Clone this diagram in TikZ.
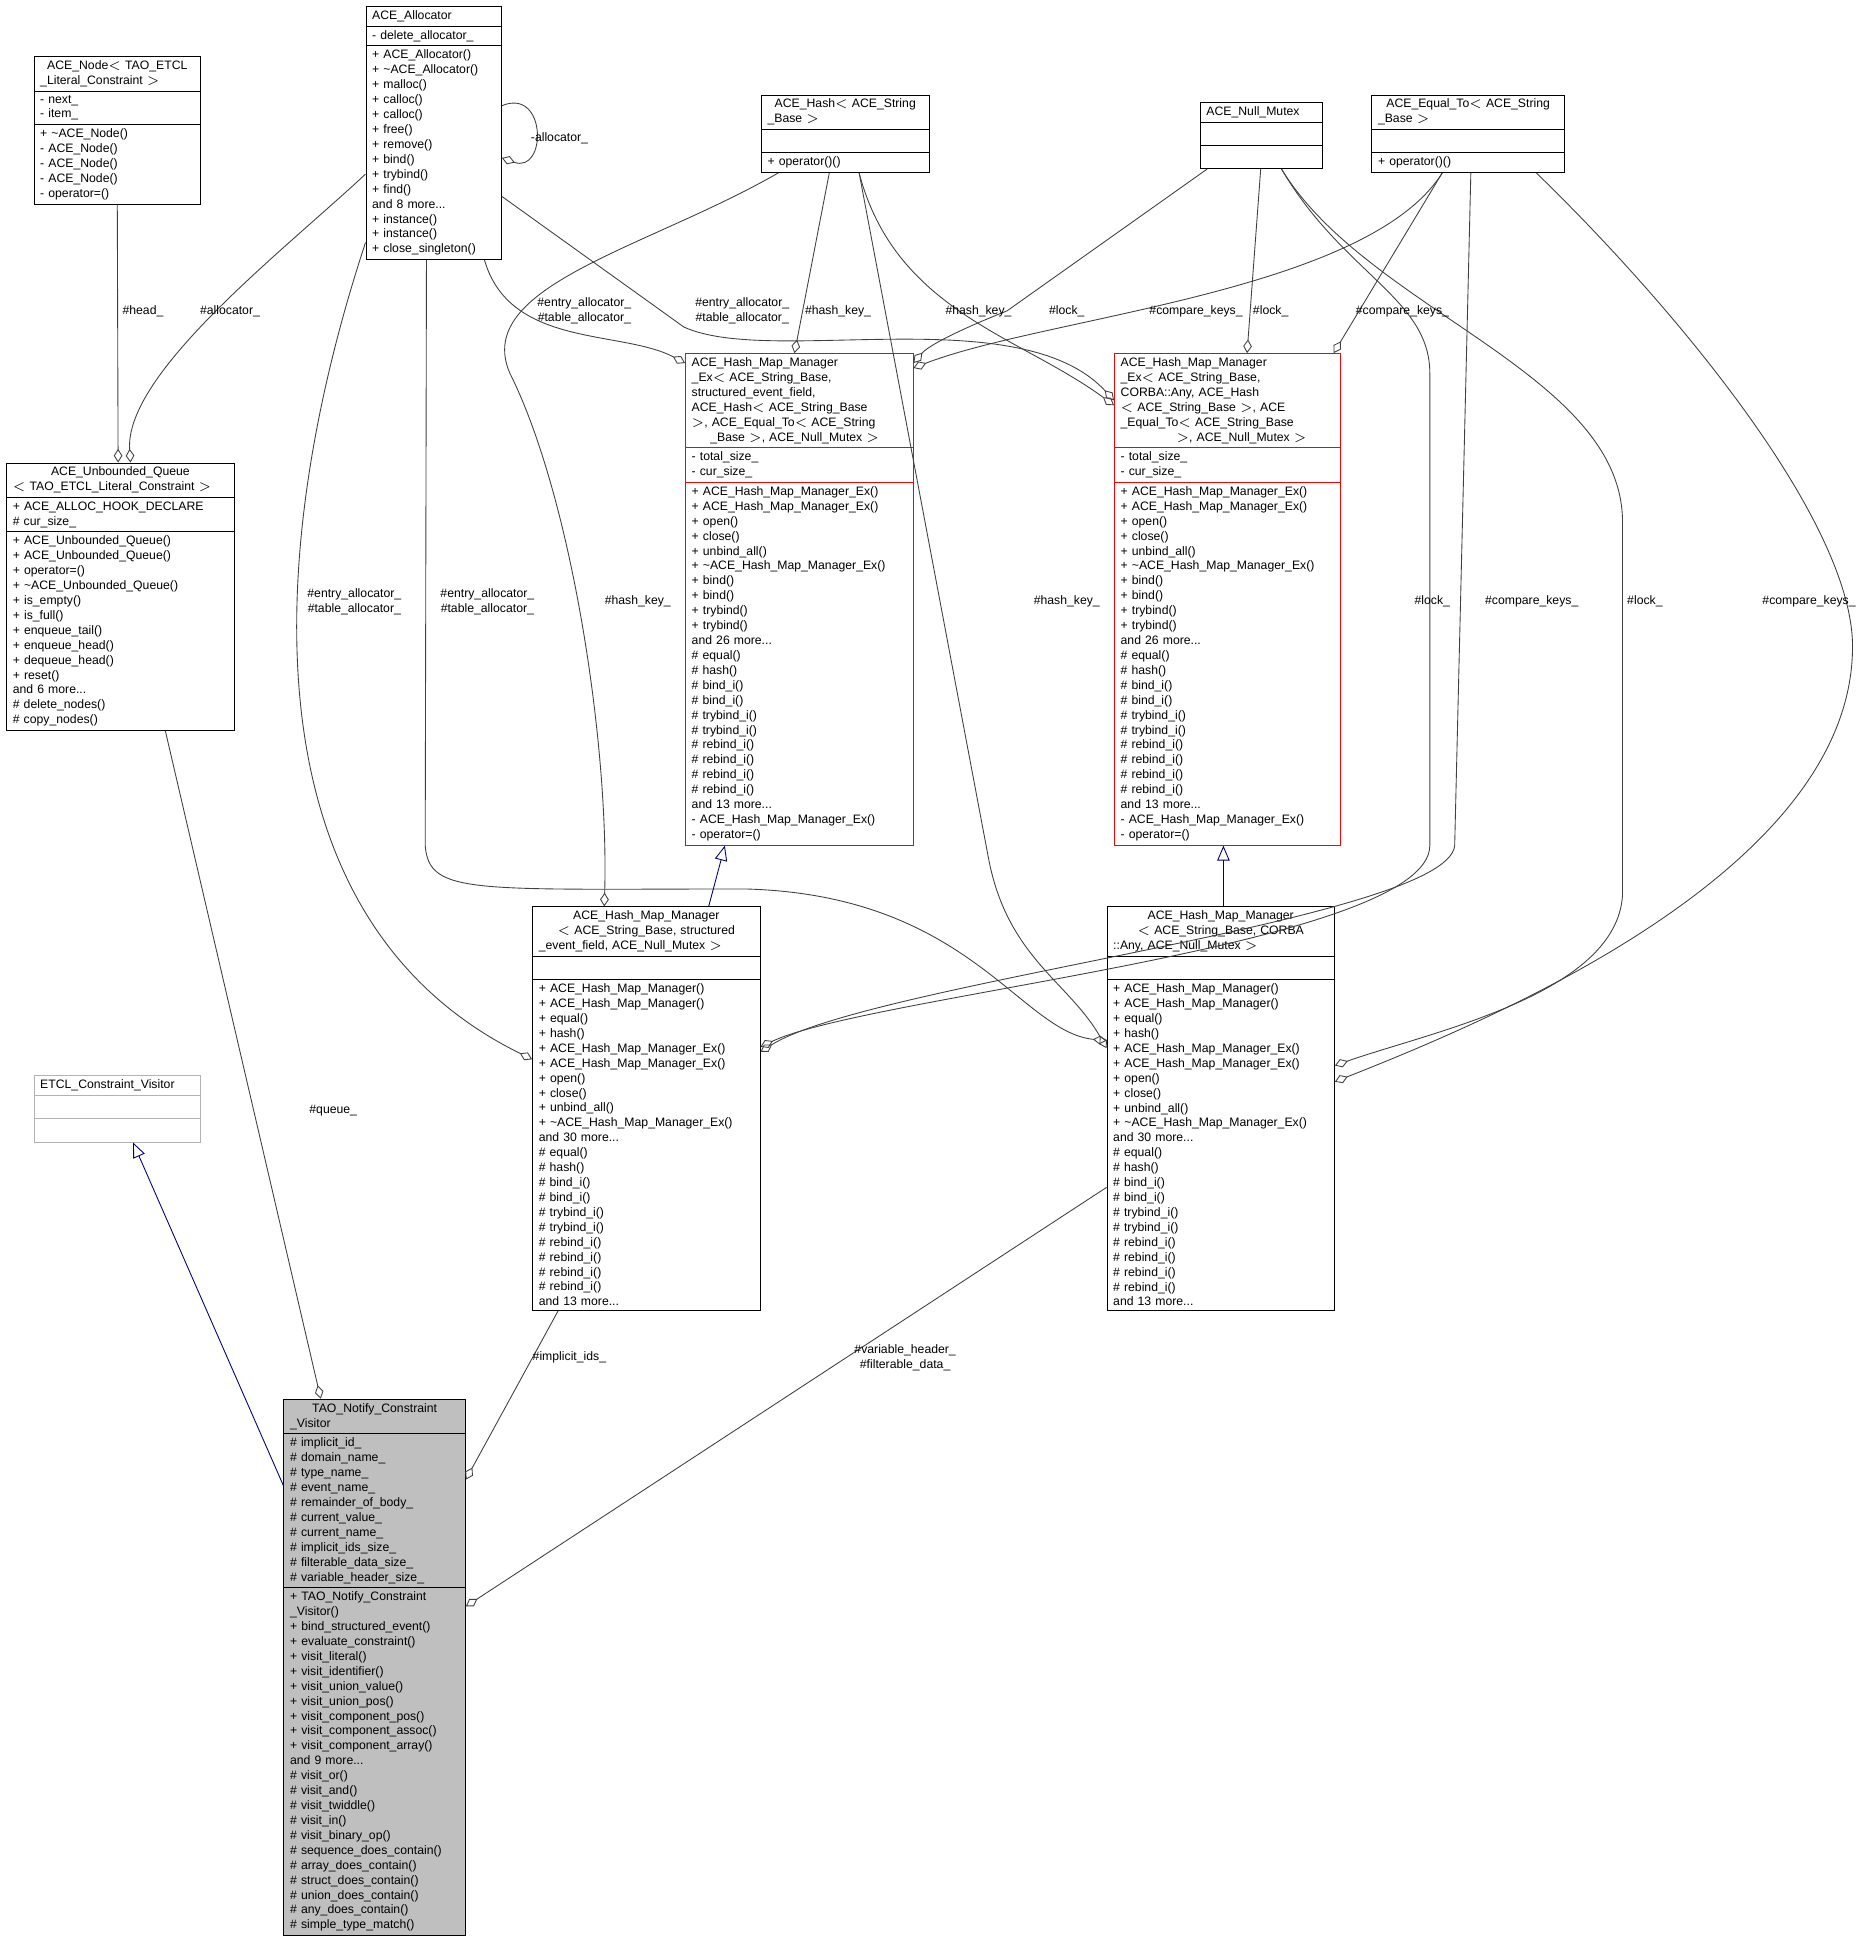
\documentclass[tikz,border=0pt]{standalone}
\usepackage{fontspec}
\setmainfont{Liberation Sans}
\usepackage{tikz}
\usetikzlibrary{calc, shapes.multipart, arrows.meta}

\begin{document}
\begin{tikzpicture}[
        x=0.02cm, y=-0.02cm,
        font=\fontsize{5.6}{6.83}\selectfont,
        cls/.style={rectangle split, rectangle split parts=3, draw=black, fill=white,
            anchor=north west, align=left, inner xsep=0.1cm, inner ysep=0.06cm},
        redcls/.style={cls, draw=red},
        agg/.style={draw=black!75, -{Diamond[open, length=0.22cm, width=0.14cm]}},
        inh/.style={draw=blue!45!black, -{Triangle[open, length=0.24cm, width=0.2cm]}},
        lbl/.style={align=center, inner sep=0pt}
    ]

        \useasboundingbox (0,0) rectangle (1500,1570);

        % Classes on top
        \node[cls, text width=2.48cm] (node) at (27,45) {\centering ACE\_Node$<$ TAO\_ETCL\\\_Literal\_Constraint $>$
            \nodepart{second}- next\_\\- item\_
            \nodepart{third}+ \textasciitilde ACE\_Node()\\- ACE\_Node()\\- ACE\_Node()\\- ACE\_Node()\\- operator=()};
        \node[cls, text width=1.98cm] (alloc) at (294,5) {\centering ACE\_Allocator
            \nodepart{second}- delete\_allocator\_
            \nodepart{third}+ ACE\_Allocator()\\+ \textasciitilde ACE\_Allocator()\\+ malloc()\\+ calloc()\\+ calloc()\\+ free()\\+ remove()\\+ bind()\\+ trybind()\\+ find()\\and 8 more...\\+ instance()\\+ instance()\\+ close\_singleton()};
        \node[cls, text width=2.5cm] (hash) at (612,76) {\centering ACE\_Hash$<$ ACE\_String\\\_Base $>$
            \nodepart{second}\strut
            \nodepart{third}+ operator()()};
        \node[cls, text width=1.76cm] (mutex) at (965,82) {\centering ACE\_Null\_Mutex
            \nodepart{second}\strut
            \nodepart{third}\strut};
        \node[cls, text width=2.9cm] (equal) at (1103,76) {\centering ACE\_Equal\_To$<$ ACE\_String\\\_Base $>$
            \nodepart{second}\strut
            \nodepart{third}+ operator()()};

        % Middle row
        \node[cls, text width=3.46cm] (queue) at (5,372) {\centering ACE\_Unbounded\_Queue\\$<$ TAO\_ETCL\_Literal\_Constraint $>$
            \nodepart{second}+ ACE\_ALLOC\_HOOK\_DECLARE\\\# cur\_size\_
            \nodepart{third}+ ACE\_Unbounded\_Queue()\\+ ACE\_Unbounded\_Queue()\\+ operator=()\\+ \textasciitilde ACE\_Unbounded\_Queue()\\+ is\_empty()\\+ is\_full()\\+ enqueue\_tail()\\+ enqueue\_head()\\+ dequeue\_head()\\+ reset()\\and 6 more...\\\# delete\_nodes()\\\# copy\_nodes()};
        \node[redcls, text width=3.46cm] (hmmexa) at (551,284) {ACE\_Hash\_Map\_Manager\\\_Ex$<$ ACE\_String\_Base,\\ structured\_event\_field,\\ ACE\_Hash$<$ ACE\_String\_Base\\ $>$, ACE\_Equal\_To$<$ ACE\_String\\\hspace*{0.3cm}\_Base $>$, ACE\_Null\_Mutex $>$
            \nodepart{second}- total\_size\_\\- cur\_size\_
            \nodepart{third}+ ACE\_Hash\_Map\_Manager\_Ex()\\+ ACE\_Hash\_Map\_Manager\_Ex()\\+ open()\\+ close()\\+ unbind\_all()\\+ \textasciitilde ACE\_Hash\_Map\_Manager\_Ex()\\+ bind()\\+ bind()\\+ trybind()\\+ trybind()\\and 26 more...\\\# equal()\\\# hash()\\\# bind\_i()\\\# bind\_i()\\\# trybind\_i()\\\# trybind\_i()\\\# rebind\_i()\\\# rebind\_i()\\\# rebind\_i()\\\# rebind\_i()\\and 13 more...\\- ACE\_Hash\_Map\_Manager\_Ex()\\- operator=()};
        \node[redcls, text width=3.44cm] (hmmexb) at (896,284) {ACE\_Hash\_Map\_Manager\\\_Ex$<$ ACE\_String\_Base,\\ CORBA::Any, ACE\_Hash\\$<$ ACE\_String\_Base $>$, ACE\\\_Equal\_To$<$ ACE\_String\_Base\\\hspace*{0.9cm}$>$, ACE\_Null\_Mutex $>$
            \nodepart{second}- total\_size\_\\- cur\_size\_
            \nodepart{third}+ ACE\_Hash\_Map\_Manager\_Ex()\\+ ACE\_Hash\_Map\_Manager\_Ex()\\+ open()\\+ close()\\+ unbind\_all()\\+ \textasciitilde ACE\_Hash\_Map\_Manager\_Ex()\\+ bind()\\+ bind()\\+ trybind()\\+ trybind()\\and 26 more...\\\# equal()\\\# hash()\\\# bind\_i()\\\# bind\_i()\\\# trybind\_i()\\\# trybind\_i()\\\# rebind\_i()\\\# rebind\_i()\\\# rebind\_i()\\\# rebind\_i()\\and 13 more...\\- ACE\_Hash\_Map\_Manager\_Ex()\\- operator=()};

        % Lower row
        \node[cls, draw=black!30, text width=2.48cm] (etcl) at (27,865) {\centering ETCL\_Constraint\_Visitor
            \nodepart{second}\strut
            \nodepart{third}\strut};
        \node[cls, text width=3.46cm] (hmma) at (428,729) {\centering ACE\_Hash\_Map\_Manager\\$<$ ACE\_String\_Base, structured\\\_event\_field, ACE\_Null\_Mutex $>$
            \nodepart{second}\strut
            \nodepart{third}+ ACE\_Hash\_Map\_Manager()\\+ ACE\_Hash\_Map\_Manager()\\+ equal()\\+ hash()\\+ ACE\_Hash\_Map\_Manager\_Ex()\\+ ACE\_Hash\_Map\_Manager\_Ex()\\+ open()\\+ close()\\+ unbind\_all()\\+ \textasciitilde ACE\_Hash\_Map\_Manager\_Ex()\\and 30 more...\\\# equal()\\\# hash()\\\# bind\_i()\\\# bind\_i()\\\# trybind\_i()\\\# trybind\_i()\\\# rebind\_i()\\\# rebind\_i()\\\# rebind\_i()\\\# rebind\_i()\\and 13 more...};
        \node[cls, text width=3.46cm] (hmmb) at (890,729) {\centering ACE\_Hash\_Map\_Manager\\$<$ ACE\_String\_Base, CORBA\\::Any, ACE\_Null\_Mutex $>$
            \nodepart{second}\strut
            \nodepart{third}+ ACE\_Hash\_Map\_Manager()\\+ ACE\_Hash\_Map\_Manager()\\+ equal()\\+ hash()\\+ ACE\_Hash\_Map\_Manager\_Ex()\\+ ACE\_Hash\_Map\_Manager\_Ex()\\+ open()\\+ close()\\+ unbind\_all()\\+ \textasciitilde ACE\_Hash\_Map\_Manager\_Ex()\\and 30 more...\\\# equal()\\\# hash()\\\# bind\_i()\\\# bind\_i()\\\# trybind\_i()\\\# trybind\_i()\\\# rebind\_i()\\\# rebind\_i()\\\# rebind\_i()\\\# rebind\_i()\\and 13 more...};
        \node[cls, fill=black!25, text width=2.72cm] (tao) at (228,1125) {\centering TAO\_Notify\_Constraint\\\_Visitor
            \nodepart{second}\# implicit\_id\_\\\# domain\_name\_\\\# type\_name\_\\\# event\_name\_\\\# remainder\_of\_body\_\\\# current\_value\_\\\# current\_name\_\\\# implicit\_ids\_size\_\\\# filterable\_data\_size\_\\\# variable\_header\_size\_
            \nodepart{third}+ TAO\_Notify\_Constraint\\\_Visitor()\\+ bind\_structured\_event()\\+ evaluate\_constraint()\\+ visit\_literal()\\+ visit\_identifier()\\+ visit\_union\_value()\\+ visit\_union\_pos()\\+ visit\_component\_pos()\\+ visit\_component\_assoc()\\+ visit\_component\_array()\\and 9 more...\\\# visit\_or()\\\# visit\_and()\\\# visit\_twiddle()\\\# visit\_in()\\\# visit\_binary\_op()\\\# sequence\_does\_contain()\\\# array\_does\_contain()\\\# struct\_does\_contain()\\\# union\_does\_contain()\\\# any\_does\_contain()\\\# simple\_type\_match()};

        % Aggregations into the top row
        \draw[agg] (node.south) -- ($(queue.north west)+(90,0)$);
        \draw[agg] ($(alloc.north west)+(0,135)$) .. controls (230,200) and (100,300) .. ($(queue.north west)+(100,0)$);
        \draw[agg] ($(alloc.north east)+(0,80)$) .. controls (440,70) and (440,140) .. ($(alloc.north east)+(0,122)$);
        \draw[agg] ($(alloc.south east)+(-14,0)$) .. controls (410,280) and (500,265) .. ($(hmmexa.north west)+(0,8)$);
        \draw[agg] ($(alloc.north east)+(0,153)$) -- (550,263) .. controls (620,295) and (820,240) .. ($(hmmexb.north west)+(0,38)$);
        \draw[agg] ($(hash.south west)+(55,0)$) -- ($(hmmexa.north west)+(88,0)$);
        \draw[agg] ($(hash.south west)+(79,0)$) .. controls (720,250) and (820,270) .. ($(hmmexb.north west)+(0,42)$);
        \draw[agg] ($(mutex.south west)+(6,0)$) -- (810,250) .. controls (760,270) and (745,280) .. ($(hmmexa.north east)+(0,8)$);
        \draw[agg] ($(mutex.south west)+(49,0)$) -- ($(hmmexb.north west)+(107,0)$);
        \draw[agg] ($(equal.south west)+(57,0)$) .. controls (1100,235) and (840,255) .. ($(hmmexa.north east)+(0,12)$);
        \draw[agg] ($(equal.south west)+(57,0)$) -- ($(hmmexb.north east)+(-6,0)$);

        % Aggregations into the lower row
        \draw[agg] ($(alloc.north west)+(0,190)$) .. controls (210,450) and (200,740) .. ($(hmma.north west)+(0,123)$);
        \draw[agg] ($(alloc.south west)+(49,0)$) -- (342,680) .. controls (345,720) and (380,715) .. (600,715) .. controls (780,720) and (820,830) .. ($(hmmb.north west)+(0,108)$);
        \draw[agg] ($(hash.south west)+(14,0)$) .. controls (520,200) and (380,230) .. (410,300) .. controls (460,400) and (490,600) .. ($(hmma.north west)+(58,0)$);
        \draw[agg] ($(hash.south west)+(79,0)$) -- (795,690) .. controls (810,770) and (860,790) .. ($(hmmb.north west)+(0,114)$);
        \draw[agg] ($(mutex.south east)+(-33,0)$) .. controls (1080,220) and (1150,240) .. (1150,300) -- (1150,680) .. controls (1150,760) and (700,800) .. ($(hmma.north east)+(0,113)$);
        \draw[agg] ($(equal.south west)+(80,0)$) -- (1170,680) .. controls (1165,740) and (700,790) .. ($(hmma.north east)+(0,117)$);
        \draw[agg] ($(mutex.south east)+(-33,0)$) .. controls (1100,250) and (1305,300) .. (1305,420) -- (1305,720) .. controls (1300,800) and (1150,830) .. ($(hmmb.north east)+(0,128)$);
        \draw[agg] ($(equal.south east)+(-23,0)$) .. controls (1350,250) and (1490,420) .. (1490,520) .. controls (1490,700) and (1200,820) .. ($(hmmb.north east)+(0,141)$);
        \draw[agg] ($(queue.south west)+(128,0)$) -- ($(tao.north west)+(30,0)$);
        \draw[agg] ($(hmma.south west)+(21,0)$) -- ($(tao.north east)+(0,65)$);
        \draw[agg] ($(hmmb.north west)+(0,226)$) -- ($(tao.north east)+(0,167)$);

        % Inheritance
        \draw[inh] ($(hmma.north west)+(142,0)$) -- ($(hmmexa.south west)+(32,0)$);
        \draw[inh] ($(hmmb.north west)+(94,0)$) -- ($(hmmexb.south west)+(88,0)$);
        \draw[inh] ($(tao.north west)+(0,70)$) -- ($(etcl.south west)+(80,0)$);

        % Labels
        \node[lbl] (lhead) at (115,250) {\#head\_};
        \node[lbl] (lalloc) at (185,250) {\#allocator\_};
        \node[lbl] (lself) at (450,111) {-allocator\_};
        \node[lbl] (lea) at (470,250) {\#entry\_allocator\_\\\#table\_allocator\_};
        \node[lbl] (leb) at (597,250) {\#entry\_allocator\_\\\#table\_allocator\_};
        \node[lbl] (lha) at (674,250) {\#hash\_key\_};
        \node[lbl] (lhb) at (787,250) {\#hash\_key\_};
        \node[lbl] (lla) at (858,250) {\#lock\_};
        \node[lbl] (lca) at (962,250) {\#compare\_keys\_};
        \node[lbl] (llb) at (1022,250) {\#lock\_};
        \node[lbl] (lcb) at (1128,250) {\#compare\_keys\_};
        \node[lbl] (lec) at (285,484) {\#entry\_allocator\_\\\#table\_allocator\_};
        \node[lbl] (led) at (392,484) {\#entry\_allocator\_\\\#table\_allocator\_};
        \node[lbl] (lhc) at (513,484) {\#hash\_key\_};
        \node[lbl] (lhd) at (858,484) {\#hash\_key\_};
        \node[lbl] (llc) at (1152,484) {\#lock\_};
        \node[lbl] (lcc) at (1232,484) {\#compare\_keys\_};
        \node[lbl] (lld) at (1323,484) {\#lock\_};
        \node[lbl] (lcd) at (1455,484) {\#compare\_keys\_};
        \node[lbl] (lqueue) at (268,893) {\#queue\_};
        \node[lbl] (limpl) at (458,1092) {\#implicit\_ids\_};
        \node[lbl] (lvar) at (728,1092) {\#variable\_header\_\\\#filterable\_data\_};

    \end{tikzpicture}
\end{document}
